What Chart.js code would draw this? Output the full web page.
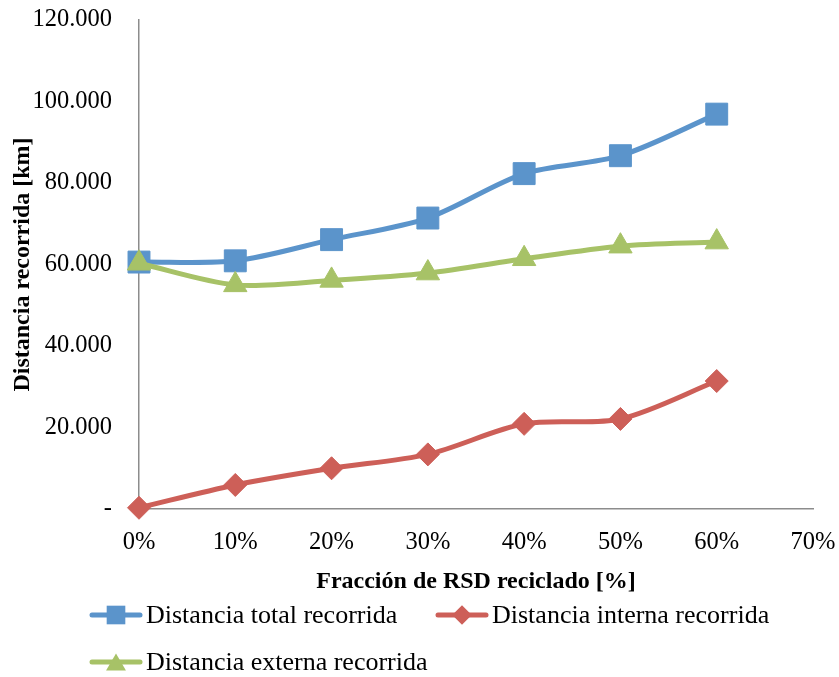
<!DOCTYPE html>
<html lang="es">
<head>
<meta charset="utf-8">
<title>Distancia recorrida según fracción de RSD reciclado</title>
<script src="https://cdn.jsdelivr.net/npm/chart.js@4/dist/chart.umd.min.js"></script>
<style>
  html, body { margin: 0; padding: 0; background: #ffffff; }
  #wrap { width: 839px; height: 677px; }
</style>
</head>
<body>
<div id="wrap"><canvas id="grafico" width="839" height="677"></canvas></div>
<script>
// Fracción de RSD reciclado (eje X)
const categorias = ['0%', '10%', '20%', '30%', '40%', '50%', '60%', '70%'];

// Distancias en km para cada fracción
const distanciaTotal   = [60600, 60900, 66100, 71400, 82300, 86700, 96900];
const distanciaInterna = [300, 5900, 10000, 13400, 20900, 22100, 31400];
const distanciaExterna = [60300, 55000, 56100, 57900, 61400, 64500, 65500];

// Eje Y
const yMin = 0;
const yMax = 120000;
const yPaso = 20000;

const serif = "'Liberation Serif', 'Times New Roman', serif";
const AZUL = '#5B94CB';
const ROJO = '#CD5F58';
const VERDE = '#A7C267';
const TRANSPARENTE = 'rgba(0,0,0,0)';

// 120000 -> "120.000", 0 -> "-"
function formatoMiles(v) {
  if (v === 0) return '-';
  return String(Math.round(v)).replace(/\B(?=(\d{3})+(?!\d))/g, '.');
}

// Marcador dibujado a mano para la leyenda
function dibujarMarcador(ctx, estilo, x, y, r, color) {
  ctx.save();
  ctx.fillStyle = color;
  ctx.beginPath();
  if (estilo === 'rect') {
    const s = r * Math.SQRT1_2;
    ctx.rect(x - s, y - s, 2 * s, 2 * s);
  } else if (estilo === 'rectRot') {
    ctx.moveTo(x, y - r);
    ctx.lineTo(x + r, y);
    ctx.lineTo(x, y + r);
    ctx.lineTo(x - r, y);
    ctx.closePath();
  } else if (estilo === 'triangle') {
    const h = r * 1.5;
    const w = r * Math.sqrt(3) / 2;
    ctx.moveTo(x, y - h / 2);
    ctx.lineTo(x + w, y + h / 2);
    ctx.lineTo(x - w, y + h / 2);
    ctx.closePath();
  }
  ctx.fill();
  ctx.restore();
}

// Leyenda en dos filas, alineada a la izquierda
const leyenda = {
  id: 'leyenda',
  afterDraw(chart) {
    const ctx = chart.ctx;
    const columnas = [90, 436];
    const filas = [615, 662];
    const anchoMuestra = 52;
    const huecos = [[0, 0], [1, 0], [0, 1]];
    ctx.save();
    ctx.font = '26px ' + serif;
    ctx.textBaseline = 'middle';
    ctx.textAlign = 'left';
    chart.data.datasets.forEach((ds, i) => {
      const [c, f] = huecos[i];
      const x = columnas[c];
      const y = filas[f];
      ctx.strokeStyle = ds.borderColor;
      ctx.lineWidth = ds.borderWidth;
      ctx.lineCap = 'round';
      ctx.beginPath();
      ctx.moveTo(x + 2, y);
      ctx.lineTo(x + anchoMuestra - 2, y);
      ctx.stroke();
      dibujarMarcador(ctx, ds.pointStyle, x + anchoMuestra / 2, y, ds.pointRadius * 0.85, ds.pointBackgroundColor);
      ctx.fillStyle = '#000000';
      ctx.fillText(ds.label, x + anchoMuestra + 4, y + 1);
    });
    ctx.restore();
  }
};

function serie(etiqueta, datos, color, estilo, radio, orden) {
  return {
    label: etiqueta,
    data: datos,
    borderColor: color,
    backgroundColor: color,
    borderWidth: 5,
    pointStyle: estilo,
    pointRadius: radio,
    pointHoverRadius: radio,
    pointBackgroundColor: color,
    pointBorderColor: color,
    pointBorderWidth: 1,
    tension: 0.3,
    fill: false,
    clip: false,
    order: orden
  };
}

new Chart(document.getElementById('grafico'), {
  type: 'line',
  data: {
    labels: categorias,
    datasets: [
      serie('Distancia total recorrida', distanciaTotal, AZUL, 'rect', 15.5, 2),
      serie('Distancia interna recorrida', distanciaInterna, ROJO, 'rectRot', 11.5, 1),
      serie('Distancia externa recorrida', distanciaExterna, VERDE, 'triangle', 13.5, 0)
    ]
  },
  options: {
    responsive: false,
    animation: false,
    events: [],
    layout: { padding: { top: 20, right: 26, bottom: 0, left: 0 } },
    plugins: {
      legend: { display: false },
      tooltip: { enabled: false }
    },
    scales: {
      x: {
        type: 'category',
        offset: false,
        grid: { display: true, drawOnChartArea: false, drawTicks: true, tickLength: 19, tickColor: TRANSPARENTE, color: TRANSPARENTE },
        border: { display: true, color: '#8C8C8C', width: 1.5 },
        ticks: {
          color: '#000000',
          font: { family: serif, size: 24.5 },
          padding: 0,
          maxRotation: 0,
          autoSkip: false
        },
        title: {
          display: true,
          text: 'Fracción de RSD reciclado [%]',
          color: '#000000',
          font: { family: serif, size: 24, weight: 'bold' },
          padding: { top: 0, bottom: 81 }
        },
        afterFit(escala) { escala.height = 168; }
      },
      y: {
        min: yMin,
        max: yMax,
        grid: { display: true, drawOnChartArea: false, drawTicks: true, tickLength: 27, tickColor: TRANSPARENTE, color: TRANSPARENTE },
        border: { display: true, color: '#8C8C8C', width: 1.5 },
        ticks: {
          stepSize: yPaso,
          color: '#000000',
          font: { family: serif, size: 24.5 },
          padding: 0,
          callback: (v) => formatoMiles(v)
        },
        title: {
          display: true,
          text: 'Distancia recorrida [km]',
          color: '#000000',
          font: { family: serif, size: 24, weight: 'bold' },
          padding: { top: 8, bottom: 0 }
        },
        afterFit(escala) { escala.width = 139; }
      }
    }
  },
  plugins: [leyenda]
});
</script>
</body>
</html>
